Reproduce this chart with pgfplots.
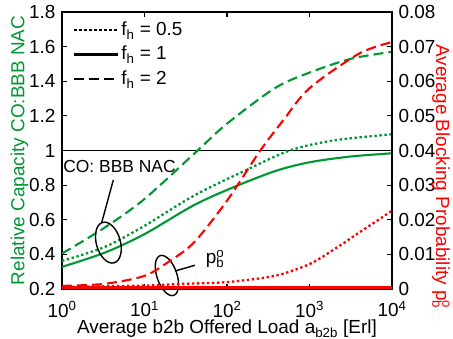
\documentclass[border=0pt]{standalone}
\usepackage{pgfplots}
\pgfplotsset{compat=1.18}
\usepackage{fontspec}
\setmainfont{Liberation Sans}
\usetikzlibrary{shapes.geometric}
\definecolor{mygreen}{RGB}{0,150,50}
\definecolor{myred}{RGB}{255,0,0}
\tikzset{
  dsh/.style={line width=2.1bp, dash pattern=on 10bp off 5bp},
  dtt/.style={line width=2.3bp, dash pattern=on 2.4bp off 2.6bp},
  sld/.style={line width=2.1bp},
}
\begin{document}
\fontsize{19}{22}\selectfont
\begin{tikzpicture}
\begin{axis}[name=ax,
  scale only axis, width=330bp, height=277bp,
  xmode=log, xmin=1, xmax=10000,
  axis line style={line width=1.4bp},
  major tick length=5bp, tick style={line width=1.2bp, black},
  tick align=inside,
  xminorticks=false, yminorticks=false,
  ymin=0.2, ymax=1.8,
  ytick={0.2,0.4,0.6,0.8,1,1.2,1.4,1.6,1.8},
  yticklabels={0.2,0.4,0.6,0.8,1,1.2,1.4,1.6,1.8},
  ytick pos=left,
  xtick={1,10,100,1000,10000},
  xticklabels={10\textsuperscript{0},10\textsuperscript{1},10\textsuperscript{2},10\textsuperscript{3},10\textsuperscript{4}},
  every x tick label/.append style={yshift=-6bp},
  xtick pos=both,
  xlabel={Average b2b Offered Load a\textsubscript{b2b} [Erl]},
  xlabel style={at={(rel axis cs:0.5,0)}, anchor=center, yshift=-40bp},
  ylabel={Relative Capacity CO:BBB NAC},
  ylabel style={color=mygreen, yshift=-12bp},
  clip mode=individual,
  legend cell align=left,
  legend style={at={(axis description cs:0.024,0.98)}, anchor=north west, draw=none, fill=none, row sep=4bp},
  legend image code/.code={\draw[#1] (0bp,0bp) -- (34bp,0bp); \path (0bp,0bp) -- (44bp,0bp);},
]
\addlegendimage{black, dtt}
\addlegendentry{f\textsubscript{h} = 0.5}
\addlegendimage{black, sld}
\addlegendentry{f\textsubscript{h} = 1}
\addlegendimage{black, dsh}
\addlegendentry{f\textsubscript{h} = 2}
\addplot[black, line width=1.3bp, forget plot] coordinates {(1,1) (10000,1)};
\addplot[mygreen, dsh, smooth, forget plot] coordinates {
(1,0.405) (3.3,0.555) (10,0.72) (44,1.0) (100,1.155) (380,1.36) (1000,1.45) (3200,1.53) (10000,1.57)};
\addplot[mygreen, dtt, smooth, forget plot] coordinates {
(1,0.362) (3.3,0.443) (10,0.565) (40,0.74) (166,0.884) (575,1.0) (1950,1.058) (10000,1.094)};
\addplot[mygreen, sld, smooth, forget plot] coordinates {
(1,0.328) (3.3,0.41) (10,0.517) (40,0.685) (130,0.795) (400,0.884) (1000,0.932) (3100,0.965) (10000,0.984)};
\node[font=\fontsize{17.5}{20}\selectfont] at (axis cs:4.98,0.907) {CO: BBB NAC};
\node[draw, ellipse, line width=1.4bp, minimum width=24bp, minimum height=42bp, inner sep=0pt, rotate=16] at (axis cs:3.65,0.468) {};
\draw[line width=1.4bp] (axis cs:3.03,0.584) -- (axis cs:4.19,0.830);
\node[draw, ellipse, line width=1.4bp, minimum width=20bp, minimum height=42bp, inner sep=0pt, rotate=19] at (axis cs:18.7,0.278) {};
\draw[line width=1.4bp] (axis cs:23.4,0.304) -- (axis cs:40.9,0.337);
\node at (axis cs:71.6,0.374) {p\rlap{\textsuperscript{o}}\textsubscript{b}};
\end{axis}
\begin{axis}[
  scale only axis, width=330bp, height=277bp,
  xmode=log, xmin=1, xmax=10000,
  axis line style={line width=1.4bp},
  major tick length=5bp, tick style={line width=1.2bp, black},
  tick align=inside,
  xminorticks=false, yminorticks=false,
  ymin=0, ymax=0.08,
  axis y line*=right, axis x line=none,
  scaled y ticks=false,
  ytick={0,0.01,0.02,0.03,0.04,0.05,0.06,0.07,0.08},
  yticklabels={0,0.01,0.02,0.03,0.04,0.05,0.06,0.07,0.08},
  clip mode=individual,
]
\addplot[myred, dsh, smooth] coordinates {
(1,0.0009) (3.3,0.0015) (10,0.0038) (20,0.008) (40,0.0135) (100,0.0255) (250,0.0398) (480,0.0487) (1000,0.058) (4000,0.068) (10000,0.0713)};
\addplot[myred, dtt, smooth] coordinates {
(1,0.0006) (10,0.001) (30,0.0015) (100,0.002) (380,0.0038) (1000,0.0072) (2000,0.0115) (4000,0.0163) (10000,0.0226)};
\addplot[myred, line width=2.6bp] coordinates {(1,0.0004) (10000,0.0004)};
\node[color=myred, rotate=-90, anchor=center] at ([xshift=49bp]rel axis cs:1,0.406) {Average Blocking Probability p\rlap{\textsuperscript{o}}\textsubscript{b}};
\end{axis}
\pgfresetboundingbox
\path[use as bounding box] ([shift={(-62bp,-49bp)}]ax.south west) rectangle ([shift={(61bp,12bp)}]ax.north east);
\end{tikzpicture}
\end{document}
